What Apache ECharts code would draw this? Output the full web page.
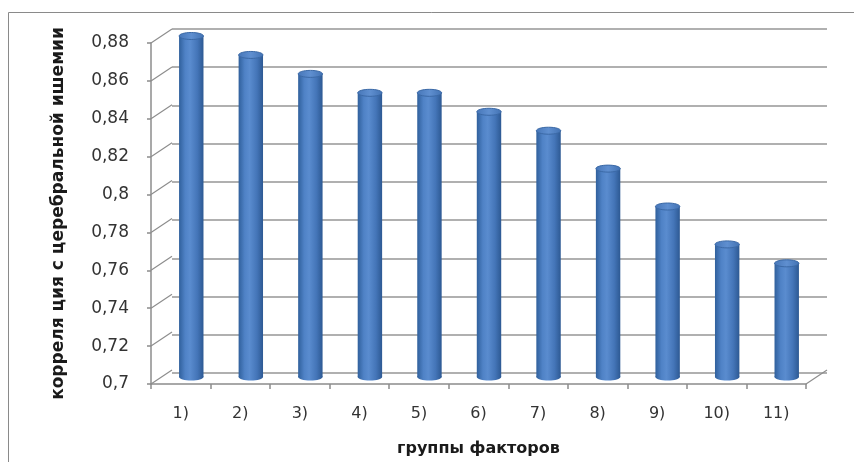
<!DOCTYPE html>
<html>
<head>
<meta charset="utf-8">
<script src="https://cdn.jsdelivr.net/npm/echarts@6/dist/echarts.min.js"></script>
<style>
  html, body { margin: 0; padding: 0; background: #fff; overflow: hidden; }
  #chart { width: 854px; height: 462px; }
</style>
</head>
<body>
<div id="chart"></div>
<script>
// Groups of factors and their correlation with cerebral ischemia
const categories = ['1)', '2)', '3)', '4)', '5)', '6)', '7)', '8)', '9)', '10)', '11)'];
const correlation = [0.88, 0.87, 0.86, 0.85, 0.85, 0.84, 0.83, 0.81, 0.79, 0.77, 0.76];
const yTicks = [0.7, 0.72, 0.74, 0.76, 0.78, 0.8, 0.82, 0.84, 0.86, 0.88];

const Y_MIN = 0.7, Y_MAX = 0.88, Y_STEP = 0.02;
// depth of the pseudo-3D box (back wall offset from the front plane)
const DX = 21, DY = -14;

const chart = echarts.init(document.getElementById('chart'), null, { renderer: 'canvas', width: 854, height: 462 });

const axisGray = '#8c8c8c';
const labelFont = 'DejaVu Sans';

// cylinder standing in the middle of the box depth
function renderCylinder(params, api) {
  const i = api.value(0);
  const v = api.value(1);
  const top = api.coord([i, v]);
  const base = api.coord([i, Y_MIN]);
  const bw = api.size([1, 0])[0];
  const w = bw * 0.41;
  const cx = top[0] + DX / 2;
  const ty = top[1] + DY / 2;
  const by = base[1] + DY / 2;
  const ry = 3.5;
  const body = new echarts.graphic.LinearGradient(0, 0, 1, 0, [
    { offset: 0, color: '#30609c' },
    { offset: 0.25, color: '#4f82c6' },
    { offset: 0.45, color: '#5a8ccf' },
    { offset: 0.75, color: '#4475b8' },
    { offset: 1, color: '#2d5993' }
  ]);
  const cap = new echarts.graphic.LinearGradient(0, 0, 1, 0, [
    { offset: 0, color: '#4676b8' },
    { offset: 0.5, color: '#5f8fd0' },
    { offset: 1, color: '#4272b3' }
  ]);
  return {
    type: 'group',
    children: [
      { type: 'ellipse', shape: { cx: cx, cy: by, rx: w / 2, ry: ry }, style: { fill: body } },
      { type: 'rect', shape: { x: cx - w / 2, y: ty, width: w, height: by - ty }, style: { fill: body } },
      { type: 'ellipse', shape: { cx: cx, cy: ty, rx: w / 2, ry: ry }, style: { fill: cap, stroke: '#3b69a6', lineWidth: 1 } }
    ]
  };
}

// side-wall edges joining the front axis ticks to the back-wall gridlines
function renderDepthEdges(params, api) {
  const v = api.value(1);
  const rect = params.coordSys;
  const y = api.coord([0, v])[1];
  const children = [
    { type: 'line', shape: { x1: rect.x, y1: y, x2: rect.x + DX, y2: y + DY },
      style: { stroke: axisGray, lineWidth: 1.2 } }
  ];
  if (v === Y_MIN) {
    const xr = rect.x + rect.width;
    children.push({ type: 'line', shape: { x1: xr, y1: y, x2: xr + DX, y2: y + DY },
      style: { stroke: axisGray, lineWidth: 1.2 } });
  }
  return { type: 'group', children: children };
}

const option = {
  backgroundColor: '#ffffff',
  animation: false,
  graphic: [
    { type: 'rect', shape: { x: 8.5, y: 12.5, width: 900, height: 500 },
      style: { fill: 'none', stroke: '#8a8a8a', lineWidth: 1 }, z: -10 }
  ],
  grid: [
    { left: 151, right: 48, top: 43, bottom: 75 },
    { left: 172, right: 27, top: 29, bottom: 89 }
  ],
  xAxis: [
    {
      type: 'category', gridIndex: 0, data: categories,
      name: 'группы факторов', nameLocation: 'middle', nameGap: 57,
      nameTextStyle: { fontFamily: labelFont, fontSize: 16, fontWeight: 'bold', color: '#1a1a1a' },
      axisLine: { lineStyle: { color: axisGray, width: 1.5 } },
      axisTick: { show: true, length: 5, lineStyle: { color: axisGray, width: 1.5 } },
      axisLabel: { fontFamily: labelFont, fontSize: 16, color: '#333', margin: 22 },
      splitLine: { show: false }
    },
    {
      type: 'category', gridIndex: 1, data: categories,
      axisLine: { show: false }, axisTick: { show: false }, axisLabel: { show: false },
      splitLine: { show: false }
    }
  ],
  yAxis: [
    {
      type: 'value', gridIndex: 0, min: Y_MIN, max: Y_MAX, interval: Y_STEP,
      name: 'корреля ция с церебральной ишемии', nameLocation: 'middle', nameGap: 84,
      nameTextStyle: { fontFamily: labelFont, fontSize: 17, fontWeight: 'bold', color: '#1a1a1a' },
      axisLine: { show: true, lineStyle: { color: axisGray, width: 1.5 } },
      axisTick: { show: true, length: 4, lineStyle: { color: axisGray, width: 1.5 } },
      axisLabel: {
        fontFamily: labelFont, fontSize: 17, color: '#333', margin: 22,
        formatter: function (v) { return String(Math.round(v * 100) / 100).replace('.', ','); }
      },
      splitLine: { show: false }
    },
    {
      type: 'value', gridIndex: 1, min: Y_MIN, max: Y_MAX, interval: Y_STEP,
      axisLine: { show: false }, axisTick: { show: false }, axisLabel: { show: false },
      splitLine: { show: true, lineStyle: { color: '#969696', width: 1.6 } }
    }
  ],
  series: [
    {
      type: 'custom', xAxisIndex: 0, yAxisIndex: 0,
      renderItem: renderDepthEdges,
      data: yTicks.map(function (v) { return [0, v]; }),
      encode: { x: 0, y: 1 }, clip: false, silent: true, z: 1
    },
    {
      type: 'custom', xAxisIndex: 0, yAxisIndex: 0,
      renderItem: renderCylinder,
      data: correlation.map(function (v, i) { return [i, v]; }),
      encode: { x: 0, y: 1 }, clip: false, z: 5
    }
  ]
};

chart.setOption(option);
</script>
</body>
</html>
